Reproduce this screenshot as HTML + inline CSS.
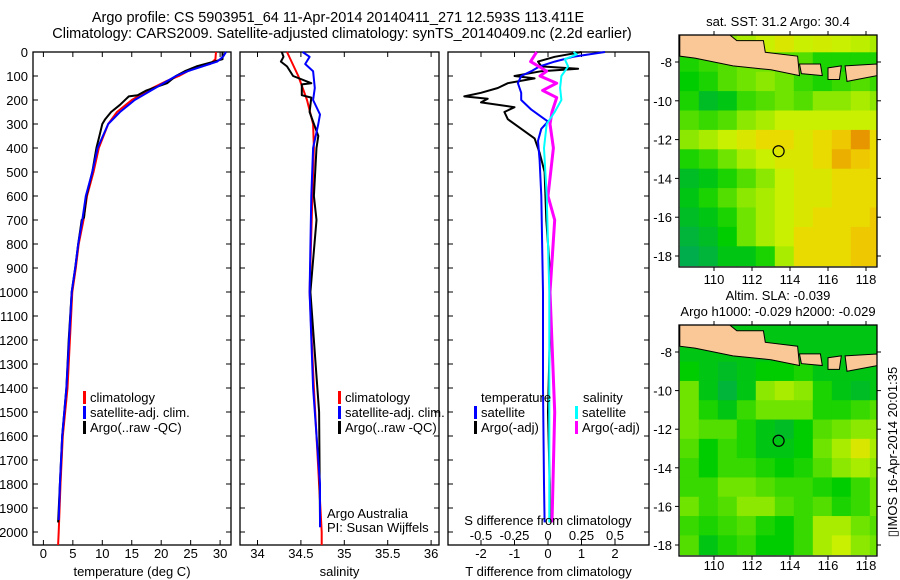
<!DOCTYPE html>
<html><head><meta charset="utf-8"><style>
body{margin:0;background:#fff}
svg{display:block;font-family:"Liberation Sans",sans-serif;font-size:13px}
</style></head><body>
<svg id="c" width="900" height="580" xmlns="http://www.w3.org/2000/svg">
<text x="338" y="22" text-anchor="middle" font-size="14.5">Argo profile: CS 5903951_64 11-Apr-2014 20140411_271 12.593S 113.411E</text>
<text x="342" y="38" text-anchor="middle" font-size="14.5">Climatology: CARS2009. Satellite-adjusted climatology: synTS_20140409.nc (2.2d earlier)</text>
<g id="g"></g>
</svg>
<script>
// ---- data ----
const tClimD=[0,30,50,60,80,100,120,150,200,250,300,400,500,600,700,800,900,1000,1200,1400,1600,1800,2000,2054];
const tClimV=[29.3,29.2,28.3,26.5,24.5,23,21,18.5,15,12.5,11,9.4,8.5,7.4,6.8,6.0,5.5,4.9,4.5,4.1,3.3,2.9,2.6,2.5];
const tSatD=[0,20,40,60,80,100,150,200,250,300,400,500,600,700,800,900,1000,1400,1600,1800,1950];
const tSatV=[31,30.5,29.5,27,24.5,22.5,19,15.5,13,11,9.2,8.3,7.2,6.6,5.9,5.4,4.8,3.9,3.2,2.8,2.6];
const tArgoD=[0,30,40,60,80,100,130,160,180,185,220,250,280,300,350,400,500,600,690,700,800,900,1000,1200,1400,1600,1800,1960];
const tArgoV=[30.4,30.4,29,26,24,22.5,21,17.5,16,14.5,13,11.5,10.5,10,9.5,9,8.3,7.3,6.9,6.5,5.9,5.4,4.8,4.3,3.9,3.2,2.8,2.5];
const sClimD=[0,100,200,300,400,500,1000,1400,2000,2054];
const sClimV=[34.34,34.47,34.57,34.64,34.65,34.64,34.60,34.65,34.74,34.74];
const sSatD=[0,20,50,80,150,200,260,300,400,600,1000,1400,1800,1980];
const sSatV=[34.52,34.6,34.55,34.64,34.66,34.64,34.72,34.7,34.64,34.62,34.6,34.64,34.72,34.72];
const sArgoD=[0,20,40,60,100,130,135,180,190,250,350,400,600,700,1000,1500,1950];
const sArgoV=[34.28,34.3,34.27,34.34,34.41,34.62,34.51,34.51,34.62,34.6,34.7,34.68,34.65,34.68,34.61,34.71,34.72];
const dTArgoD=[0,20,40,60,70,80,100,110,130,150,170,185,195,210,230,250,280,320,360,420,500,700,900,1200,1500,1800,1960];
const dTArgoV=[1.0,0.2,-0.3,-0.2,0.9,-0.2,-1.0,-0.4,-1.2,-1.5,-2.0,-2.5,-1.8,-2.0,-1.0,-1.3,-1.2,-0.8,-0.4,-0.25,-0.1,-0.05,0.05,0.05,0.0,0.05,0.05];
const dTSatD=[0,20,40,60,80,100,130,170,200,240,265,290,320,370,450,600,1000,1400,1800,1960];
const dTSatV=[1.7,0.75,0.2,-0.25,-0.5,-0.8,-0.9,-0.8,-0.8,-0.5,-0.25,0,-0.2,-0.3,-0.25,-0.2,-0.15,-0.15,-0.12,-0.1];
const dSArgoD=[0,40,80,100,130,160,190,250,300,400,600,700,1000,1500,1960];
const dSArgoV=[-0.085,-0.13,-0.01,-0.06,0.065,-0.04,0.065,0.03,0.015,0.04,0.0,0.05,0.015,0.05,0.03];
const dSSatD=[0,10,30,60,100,150,200,250,300,400,600,1000,1500,1960];
const dSSatV=[0.19,0.215,0.125,0.15,0.1,0.09,0.1,0.05,-0.01,-0.03,-0.01,0.01,0.01,0.01];
const depthTicks=[0,100,200,300,400,500,600,700,800,900,1000,1100,1200,1300,1400,1500,1600,1700,1800,1900,2000];
const tTicks=[0,5,10,15,20,25,30];
const sTicks=[34,34.5,35,35.5,36];
const dTTicks=[-2,-1,0,1,2];
const dSTicks=[-0.5,-0.25,0,0.25,0.5];
const lonTicks=[110,112,114,116,118];
const latTicks=[-8,-10,-12,-14,-16,-18];
const sstGrid=[
[0.5,0.5,0.5,0.55,0.6,0.65,0.6,0.62,0.6,0.58,0.55],
[0.3,0.35,0.4,0.45,0.45,0.4,0.4,0.3,0.3,0.3,0.3],
[0.25,0.3,0.4,0.45,0.5,0.45,0.35,0.3,0.35,0.4,0.35],
[0.3,0.15,0.2,0.35,0.4,0.45,0.4,0.5,0.5,0.55,0.5],
[0.4,0.35,0.4,0.5,0.55,0.6,0.6,0.6,0.6,0.6,0.6],
[0.5,0.55,0.6,0.65,0.7,0.7,0.65,0.7,0.75,0.85,0.7],
[0.3,0.35,0.45,0.55,0.6,0.65,0.65,0.7,0.8,0.75,0.7],
[0.15,0.2,0.3,0.4,0.5,0.6,0.65,0.65,0.7,0.7,0.7],
[0.2,0.3,0.4,0.5,0.55,0.6,0.65,0.65,0.7,0.7,0.7],
[0.15,0.2,0.3,0.45,0.55,0.6,0.65,0.7,0.7,0.7,0.75],
[0.1,0.15,0.25,0.45,0.55,0.6,0.7,0.7,0.7,0.75,0.75],
[0.05,0.1,0.2,0.2,0.3,0.55,0.7,0.7,0.7,0.75,0.75]];
const slaGrid=[
[0.2,0.2,0.2,0.2,0.2,0.2,0.2,0.2,0.2,0.2,0.2],
[0.2,0.2,0.2,0.2,0.2,0.2,0.2,0.2,0.2,0.2,0.2],
[0.25,0.2,0.15,0.2,0.25,0.25,0.3,0.2,0.2,0.2,0.2],
[0.45,0.2,0.1,0.2,0.5,0.55,0.5,0.3,0.2,0.15,0.2],
[0.45,0.3,0.2,0.35,0.45,0.45,0.45,0.3,0.3,0.35,0.4],
[0.45,0.4,0.4,0.3,0.2,0.15,0.25,0.4,0.45,0.5,0.5],
[0.4,0.25,0.35,0.3,0.2,0.2,0.25,0.45,0.55,0.65,0.55],
[0.35,0.25,0.35,0.35,0.3,0.25,0.3,0.4,0.5,0.55,0.5],
[0.35,0.35,0.45,0.45,0.4,0.35,0.35,0.3,0.25,0.35,0.45],
[0.45,0.35,0.4,0.5,0.5,0.4,0.35,0.4,0.3,0.35,0.45],
[0.35,0.3,0.35,0.4,0.3,0.25,0.35,0.55,0.55,0.45,0.4],
[0.4,0.2,0.3,0.35,0.25,0.25,0.35,0.55,0.6,0.5,0.45]];
const argoLon=113.4, argoLat=-12.6;

// ---- helpers ----
const NS="http://www.w3.org/2000/svg";
const G=document.getElementById('g');
function mk(tag,at,parent){const e=document.createElementNS(NS,tag);for(const k in at)e.setAttribute(k,at[k]);(parent||G).appendChild(e);return e;}
const yD=d=>52+d*0.24;
const xT=v=>43.4+v*5.89;
const xS=v=>257.5+(v-34)*86.8;
const xdT=v=>548+v*33.5;
const xdS=v=>548+v*134;

function panel(x0,x1,name,xTicks,xf,xlab,title){
  const r=mk('rect',{x:x0,y:52,width:x1-x0,height:493,fill:'none',stroke:'#000','stroke-width':1.3});
  
  
  depthTicks.forEach(d=>{
    mk('line',{x1:x0,x2:x0+5,y1:yD(d),y2:yD(d),stroke:'#000'});
    mk('line',{x1:x1,x2:x1-5,y1:yD(d),y2:yD(d),stroke:'#000'});
  });
  xTicks.forEach((v,i)=>{
    const x=xf(v);
    mk('line',{x1:x,x2:x,y1:545,y2:540,stroke:'#000'});
    mk('line',{x1:x,x2:x,y1:52,y2:57,stroke:'#000'});
    const t=mk('text',{x:x,y:558,'text-anchor':'middle'});t.textContent=xlab[i];
    
    
  });
  const t=mk('text',{x:(x0+x1)/2,y:576,'text-anchor':'middle'});t.textContent=title;
  
  
}
function line(D,V,xf,col,w,name){
  const p=mk('polyline',{points:D.map((d,i)=>xf(V[i]).toFixed(1)+','+yD(d).toFixed(1)).join(' '),fill:'none',stroke:col,'stroke-width':w,'stroke-linejoin':'round'});
  
  
}
function legend(x,y,col,txt,name){
  mk('rect',{x:x-1,y:y-11,width:3,height:13,fill:col});
  const t=mk('text',{x:x+6,y:y});t.textContent=txt;
  
  
}

depthTicks.forEach(d=>{
  const t=mk('text',{x:28,y:yD(d)+5,'text-anchor':'end'});t.textContent=d;
  
  
});

panel(33,231,'temperature-panel',tTicks,xT,tTicks.map(String),'temperature (deg C)');
line(tClimD,tClimV,xT,'#f00',2,'temperature-climatology-line');
line(tArgoD,tArgoV,xT,'#000',2,'temperature-argo-line');
line(tSatD,tSatV,xT,'#00f',2,'temperature-satellite-line');
legend(84,402,'#f00','climatology','legend-climatology');
legend(84,417,'#00f','satellite-adj. clim.','legend-satellite');
legend(84,432,'#000','Argo(..raw -QC)','legend-argo');

panel(240,439,'salinity-panel',sTicks,xS,sTicks.map(String),'salinity');
line(sClimD,sClimV,xS,'#f00',2,'salinity-climatology-line');
line(sArgoD,sArgoV,xS,'#000',2,'salinity-argo-line');
line(sSatD,sSatV,xS,'#00f',2,'salinity-satellite-line');
legend(339,402,'#f00','climatology','legend-climatology-s');
legend(339,417,'#00f','satellite-adj. clim.','legend-satellite-s');
legend(339,432,'#000','Argo(..raw -QC)','legend-argo-s');
[['Argo Australia',518],['PI: Susan Wijffels',532]].forEach(a=>{
  const t=mk('text',{x:327,y:a[1]});t.textContent=a[0];
  
  
});

panel(448,649,'difference-panel',dTTicks,xdT,dTTicks.map(String),'T difference from climatology');
line(dTArgoD,dTArgoV,xdT,'#000',2,'t-diff-argo-line');
line(dTSatD,dTSatV,xdT,'#00f',2,'t-diff-satellite-line');
line(dSArgoD,dSArgoV,xdS,'#f0f',3,'s-diff-argo-line');
line(dSSatD,dSSatV,xdS,'#0ff',2,'s-diff-satellite-line');
{const t=mk('text',{x:481,y:402});t.textContent='temperature';

}
{const t=mk('text',{x:583,y:402});t.textContent='salinity';

}
legend(475,417,'#00f','satellite','legend-t-satellite');
legend(475,432,'#000','Argo(-adj)','legend-t-argo');
legend(576,417,'#0ff','satellite','legend-s-satellite');
legend(576,432,'#f0f','Argo(-adj)','legend-s-argo');
{const t=mk('text',{x:548,y:525,'text-anchor':'middle'});t.textContent='S difference from climatology';

}
dSTicks.forEach(v=>{
  const t=mk('text',{x:xdS(v),y:540,'text-anchor':'middle'});t.textContent=String(v);
  
  
});

const stops=[[0,[0,165,95]],[0.25,[0,205,0]],[0.45,[110,228,0]],[0.6,[200,240,0]],[0.72,[240,215,0]],[0.85,[232,150,0]],[1,[160,0,0]]];
function cmap(v){for(let i=1;i<stops.length;i++){if(v<=stops[i][0]){const a=stops[i-1],b=stops[i],f=(v-a[0])/(b[0]-a[0]);return 'rgb('+a[1].map((c,k)=>Math.round(c+(b[1][k]-c)*f)).join(',')+')';}}return 'rgb(160,0,0)';}
const java=[[108.2,-6.5],[110.7,-6.5],[111.2,-6.9],[112.6,-6.9],[112.7,-7.5],[114.4,-7.7],[114.5,-8.7],[113,-8.4],[111,-8.2],[109,-7.8],[108.2,-7.7]];
const bali=[[114.5,-8.1],[115.6,-8.1],[115.7,-8.7],[114.6,-8.6]];
const lombok=[[116.0,-8.3],[116.7,-8.2],[116.6,-8.9],[116.0,-8.9]];
const sumbawa=[[116.9,-8.2],[118.6,-8.1],[118.6,-8.7],[117,-9.0]];
function map(y0,y1,grid,name,ttl,tickY){
  const X=lon=>714+(lon-110)*19;
  const Y=lat=>y0+27+(-8-lat)*((y1-y0-27-11)/10);
  const id='clip'+name;
  const cp=mk('clipPath',{id:id});mk('rect',{x:679,y:y0,width:198,height:y1-y0},cp);
  const g=mk('g',{'clip-path':'url(#'+id+')'});
  
  
  grid.forEach((row,r)=>row.forEach((v,c)=>{
    const la=-6.5-r, lo=108.2+c;
    const e=mk('rect',{x:X(lo),y:Y(la),width:19.5,height:Y(la-1)-Y(la)+0.5,fill:cmap(v)},g);
    
    
  }));
  [java,bali,lombok,sumbawa].forEach(p=>{
    const e=mk('polygon',{points:p.map(q=>X(q[0])+','+Y(q[1])).join(' '),fill:'#fac896',stroke:'#000','stroke-width':1},g);
    
    
  });
  const c=mk('circle',{cx:X(argoLon),cy:Y(argoLat),r:5.5,fill:'none',stroke:'#000','stroke-width':1.2});
  
  
  const f=mk('rect',{x:679,y:y0,width:198,height:y1-y0,fill:'none',stroke:'#000','stroke-width':1.3});
  
  
  lonTicks.forEach(l=>{
    mk('line',{x1:X(l),x2:X(l),y1:y1,y2:y1+4,stroke:'#000'});
    mk('line',{x1:X(l),x2:X(l),y1:y0,y2:y0-4,stroke:'#000'});
    const t=mk('text',{x:X(l),y:tickY,'text-anchor':'middle'});t.textContent=l;
    
    
  });
  latTicks.forEach(l=>{
    mk('line',{x1:679,x2:675,y1:Y(l),y2:Y(l),stroke:'#000'});
    mk('line',{x1:877,x2:881,y1:Y(l),y2:Y(l),stroke:'#000'});
    const t=mk('text',{x:672,y:Y(l)+5,'text-anchor':'end'});t.textContent=l;
    
    
  });
  ttl.forEach(a=>{const t=mk('text',{x:778,y:a[1],'text-anchor':'middle'});t.textContent=a[0];
    
    });
}
map(35,267,sstGrid,'sst-map',[['sat. SST: 31.2  Argo: 30.4',26]],284);
map(325,556,slaGrid,'sla-map',[['Altim. SLA: -0.039',300],['Argo h1000: -0.029 h2000: -0.029',316]],570);
{const t=mk('text',{x:0,y:0,transform:'translate(897,452) rotate(-90)','text-anchor':'middle'});t.textContent='▯IMOS 16-Apr-2014 20:01:35';

}
</script>
</body></html>
